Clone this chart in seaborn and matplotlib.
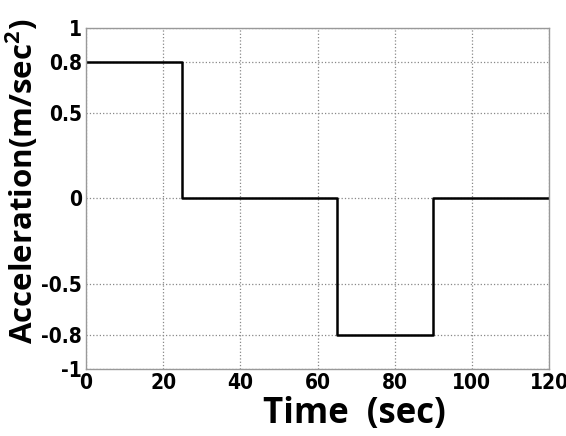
import matplotlib
matplotlib.use("Agg")
import matplotlib.pyplot as plt
import seaborn as sns
import pandas as pd

# Step profile of the acceleration
time_pts = [0, 25, 25, 65, 65, 90, 90, 120]
accel_pts = [0.8, 0.8, 0, 0, -0.8, -0.8, 0, 0]

x_ticks = [0, 20, 40, 60, 80, 100, 120]
y_ticks = [-1, -0.8, -0.5, 0, 0.5, 0.8, 1]
y_tick_labels = ["-1", "-0.8", "-0.5", "0", "0.5", "0.8", "1"]

df = pd.DataFrame({"time": time_pts, "accel": accel_pts})

sns.set_style("white")
plt.rcParams['font.family'] = ['Open Sans', 'DejaVu Sans']
plt.rcParams['text.color'] = 'black'
plt.rcParams['axes.labelcolor'] = 'black'
plt.rcParams['xtick.color'] = 'black'
plt.rcParams['ytick.color'] = 'black'
plt.rcParams['mathtext.fontset'] = 'custom'
plt.rcParams['mathtext.bf'] = 'Open Sans:bold'
plt.rcParams['mathtext.rm'] = 'Open Sans'

fig = plt.figure(figsize=(5.66, 4.36), dpi=100)
ax = fig.add_axes([0.152, 0.154, 0.818, 0.782])

sns.lineplot(x="time", y="accel", data=df, ax=ax, color="black",
             linewidth=1.8, sort=False, estimator=None)

ax.set_xlim(0, 120)
ax.set_ylim(-1, 1)
ax.set_xticks(x_ticks)
ax.set_yticks(y_ticks)
ax.set_yticklabels(y_tick_labels)
ax.grid(True, linestyle=":", color="#888888", linewidth=0.9)
ax.tick_params(length=0, pad=3)

for lab in ax.get_xticklabels() + ax.get_yticklabels():
    lab.set_fontfamily(["DejaVu Sans"])
    lab.set_fontstretch("condensed")
    lab.set_fontweight("bold")
    lab.set_fontsize(15)

for sp in ax.spines.values():
    sp.set_color("#999999")
    sp.set_linewidth(1)

ax.set_xlabel("Time  (sec)", fontsize=25, fontweight="bold")
ax.xaxis.set_label_coords(0.579, -0.08)
ax.set_ylabel("Acceleration(m/sec$^\\mathbf{2}$)", fontsize=22.5,
              fontweight="bold")
ax.yaxis.set_label_coords(-0.1, 0.55)

fig.savefig("out.png", dpi=100)
plt.close()
